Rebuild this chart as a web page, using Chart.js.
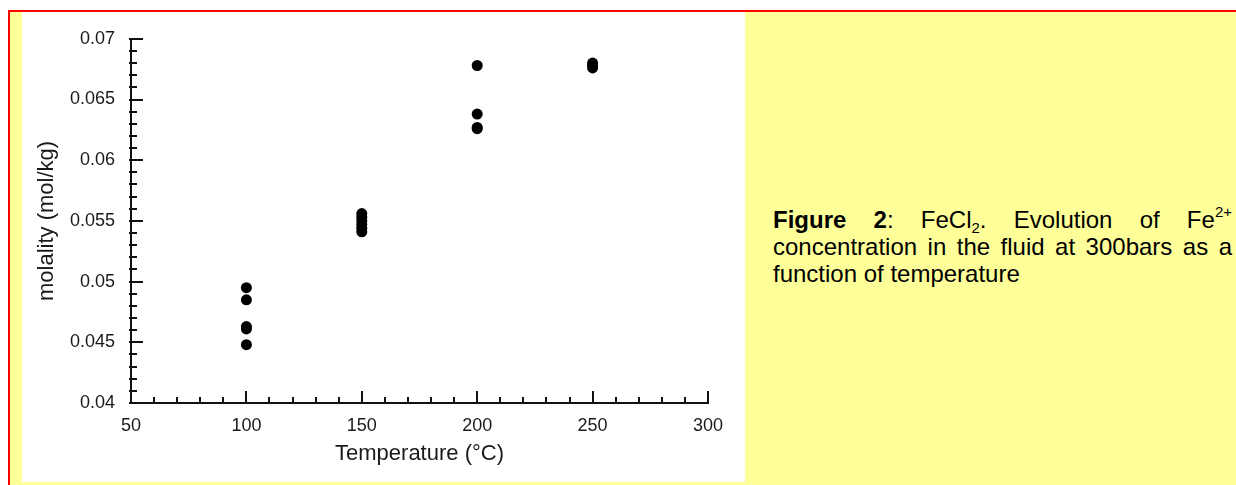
<!DOCTYPE html>
<html>
<head>
<meta charset="utf-8">
<title>FeCl2 - Fe2+ molality vs temperature</title>
<script src="https://cdn.jsdelivr.net/npm/chart.js@4/dist/chart.umd.min.js"></script>
<style>
  html, body { margin: 0; padding: 0; background: #fff; overflow: hidden; }
  body { width: 1236px; height: 485px; position: relative; }
  #frame {
    position: absolute; left: 8px; top: 10px; width: 1240px; height: 490px;
    border-top: 2px solid #ff0000; border-left: 2px solid #ff0000;
    background: #ffff99;
  }
  #plot {
    position: absolute; left: 22px; top: 12px; width: 723px; height: 470px;
    background: #fff;
  }
  #caption {
    position: absolute; left: 773px; top: 206px; width: 459px;
    font-family: "Liberation Sans", Arial, sans-serif; font-size: 24px;
    line-height: 27px; color: #000;
  }
  #caption .line { text-align: justify; text-align-last: justify; white-space: nowrap; }
  #caption .line.last { text-align: left; text-align-last: left; }
  #caption sup, #caption sub { font-size: 15px; line-height: 0; position: relative; vertical-align: baseline; }
  #caption sup { top: -11px; }
  #caption sub { top: 5px; }
</style>
</head>
<body>
<div id="frame"></div>
<div id="plot"><canvas id="myChart" width="723" height="470"></canvas></div>
<div id="caption">
  <div class="line"><b>Figure 2</b>: FeCl<sub>2</sub>. Evolution of Fe<sup>2+</sup></div>
  <div class="line">concentration in the fluid at 300bars as a</div>
  <div class="line last">function of temperature</div>
</div>
<script>
// Fe2+ molality (mol/kg) measured at each run temperature (°C)
const temperatures = [100, 150, 200, 250];
const molality100 = [0.0495, 0.0485, 0.0463, 0.0461, 0.0448];
const molality150 = [0.0556, 0.0553, 0.0550, 0.0547, 0.0544, 0.0541];
const molality200 = [0.0678, 0.0638, 0.0627, 0.0626];
const molality250 = [0.0680, 0.0678, 0.0676];

// Axis tick labels
const xTickLabels = ['50', '100', '150', '200', '250', '300'];
const yTickLabels = ['0.04', '0.045', '0.05', '0.055', '0.06', '0.065', '0.07'];

const axisColor = '#111';
const textColor = '#1a1a1a';
const fontFamily = '"Liberation Sans", Arial, Helvetica, sans-serif';

// Pair each temperature with its molality values
const groups = [molality100, molality150, molality200, molality250];
const points = [];
groups.forEach((vals, i) => {
  vals.forEach(v => points.push({ x: temperatures[i], y: v }));
});

// Tick marks drawn inside the plot, long at labelled values, short in between
const innerTicks = {
  id: 'innerTicks',
  afterDraw(chart) {
    const { ctx, chartArea } = chart;
    const x = chart.scales.x;
    const y = chart.scales.y;
    ctx.save();
    ctx.strokeStyle = axisColor;
    ctx.lineWidth = 2;
    ctx.beginPath();
    for (let i = 0; i <= 25; i++) {
      const v = 50 + i * 10;
      const px = Math.round(x.getPixelForValue(v));
      const len = i % 5 === 0 ? 12 : 6;
      ctx.moveTo(px, chartArea.bottom);
      ctx.lineTo(px, chartArea.bottom - len);
    }
    for (let i = 0; i <= 30; i++) {
      const v = 0.04 + i * 0.001;
      const py = Math.round(y.getPixelForValue(v));
      const len = i % 5 === 0 ? 12 : 6;
      ctx.moveTo(chartArea.left - 2, py);
      ctx.lineTo(chartArea.left + len, py);
    }
    ctx.stroke();
    ctx.restore();
  }
};

const ctx = document.getElementById('myChart').getContext('2d');
new Chart(ctx, {
  type: 'scatter',
  data: {
    datasets: [{
      label: 'Fe2+',
      data: points,
      backgroundColor: '#000',
      borderColor: '#000',
      borderWidth: 0,
      pointRadius: 5.5,
      pointHoverRadius: 5.5
    }]
  },
  options: {
    responsive: false,
    animation: false,
    layout: { padding: { top: 24, right: 37, left: 0, bottom: 0 } },
    plugins: {
      legend: { display: false },
      tooltip: { enabled: false }
    },
    scales: {
      x: {
        type: 'linear',
        min: 50,
        max: 300,
        afterFit: scale => { scale.height = 79; },
        grid: { display: false, drawTicks: false },
        border: { display: true, color: axisColor, width: 2 },
        ticks: {
          stepSize: 50,
          padding: 12,
          color: textColor,
          font: { family: fontFamily, size: 18 },
          callback: (value, index) => xTickLabels[index]
        },
        title: {
          display: true,
          text: 'Temperature (°C)',
          color: textColor,
          font: { family: fontFamily, size: 22 },
          padding: { top: 0, bottom: 15 }
        }
      },
      y: {
        type: 'linear',
        min: 0.04,
        max: 0.07,
        afterFit: scale => { scale.width = 109; },
        grid: { display: false, drawTicks: false },
        border: { display: true, color: axisColor, width: 2 },
        ticks: {
          stepSize: 0.005,
          padding: 16,
          color: textColor,
          font: { family: fontFamily, size: 18 },
          callback: (value, index) => yTickLabels[index]
        },
        title: {
          display: true,
          text: 'molality (mol/kg)',
          color: textColor,
          font: { family: fontFamily, size: 22 },
          padding: { top: 12, bottom: 0 }
        }
      }
    }
  },
  plugins: [innerTicks]
});
</script>
</body>
</html>
